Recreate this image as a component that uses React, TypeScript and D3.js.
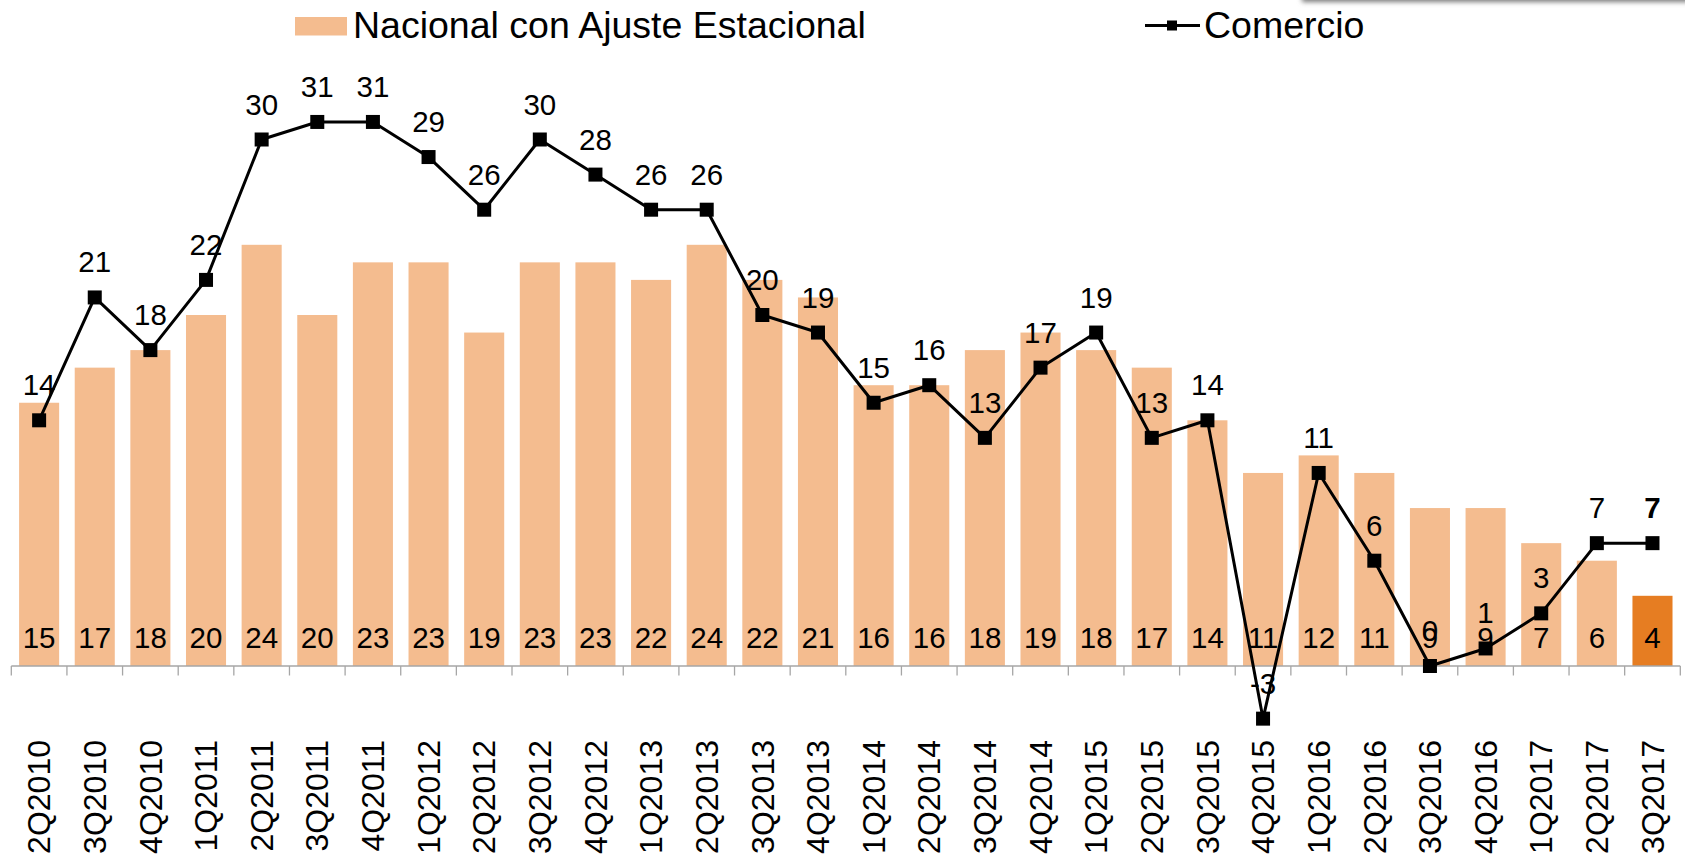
import * as d3 from "d3";
import React, { useEffect, useRef } from "react";

// quarters on the x axis
const quarters = [
  "2Q2010", "3Q2010", "4Q2010",
  "1Q2011", "2Q2011", "3Q2011", "4Q2011",
  "1Q2012", "2Q2012", "3Q2012", "4Q2012",
  "1Q2013", "2Q2013", "3Q2013", "4Q2013",
  "1Q2014", "2Q2014", "3Q2014", "4Q2014",
  "1Q2015", "2Q2015", "3Q2015", "4Q2015",
  "1Q2016", "2Q2016", "3Q2016", "4Q2016",
  "1Q2017", "2Q2017", "3Q2017",
];

// bars: Nacional con Ajuste Estacional
const nacional = [
  15, 17, 18, 20, 24, 20, 23, 23, 19, 23, 23, 22, 24, 22, 21,
  16, 16, 18, 19, 18, 17, 14, 11, 12, 11, 9, 9, 7, 6, 4,
];

// line: Comercio
const comercio = [
  14, 21, 18, 22, 30, 31, 31, 29, 26, 30, 28, 26, 26, 20, 19,
  15, 16, 13, 17, 19, 13, 14, -3, 11, 6, 0, 1, 3, 7, 7,
];

const seriesNames = ["Nacional con Ajuste Estacional", "Comercio"];

const W = 1685;
const H = 855;
const FONT = "'Liberation Sans', Arial, Helvetica, sans-serif";
const BAR = "#F4BC8F";
const BAR_LAST = "#E67D22";

export default function App() {
  const svgRef = useRef<SVGSVGElement>(null);

  useEffect(() => {
    const svg = d3.select(svgRef.current);
    svg.selectAll("*").remove();
    svg.attr("width", W).attr("height", H).style("background", "#fff");

    //scales
    const xScale = d3.scaleBand().domain(quarters).range([11.3, 1680.3]).padding(0);
    const yScale = d3.scaleLinear().domain([-5, 35]).range([753.75, 51.75]);
    const bw = xScale.bandwidth();
    const barW = bw * 0.72;
    const cx = (q: string) => (xScale(q) as number) + bw / 2;

    //shadow at the top right corner
    const defs = svg.append("defs");
    const blur = defs.append("filter").attr("id", "shadowBlur").attr("x", "-10%").attr("y", "-100%").attr("width", "120%").attr("height", "300%");
    blur.append("feGaussianBlur").attr("stdDeviation", 2.6);
    svg.append("rect")
      .attr("x", 1302).attr("y", -12).attr("width", 420).attr("height", 14)
      .attr("fill", "#7a7a7a")
      .attr("filter", "url(#shadowBlur)");

    //bars
    svg.selectAll(".bar")
      .data(nacional)
      .join("rect")
      .attr("class", "bar")
      .attr("x", (d, i) => cx(quarters[i]) - barW / 2)
      .attr("y", (d) => yScale(d))
      .attr("width", barW)
      .attr("height", (d) => yScale(0) - yScale(d))
      .attr("fill", (d, i) => (i === nacional.length - 1 ? BAR_LAST : BAR));

    //axis line + ticks at band edges
    const axis = svg.append("g").attr("stroke", "#A6A6A6").attr("stroke-width", 1.3);
    const y0 = yScale(0);
    axis.append("line").attr("x1", 11.3).attr("x2", 1680.3).attr("y1", y0).attr("y2", y0);
    const edges = quarters.map((q) => xScale(q) as number).concat([xScale.range()[1]]);
    axis.selectAll(".tick")
      .data(edges)
      .join("line")
      .attr("x1", (d) => d).attr("x2", (d) => d)
      .attr("y1", y0).attr("y2", y0 + 9.5);

    //tick labels, rotated
    svg.selectAll(".xlab")
      .data(quarters)
      .join("text")
      .attr("class", "xlab")
      .attr("transform", (d) => `translate(${cx(d)},740) rotate(-90)`)
      .attr("text-anchor", "end")
      .attr("dy", "0.35em")
      .style("font-family", FONT)
      .style("font-size", "32px")
      .attr("fill", "#000")
      .text((d) => d);

    //bar labels
    svg.selectAll(".blab")
      .data(nacional)
      .join("text")
      .attr("class", "blab")
      .attr("x", (d, i) => cx(quarters[i]))
      .attr("y", y0 - 18)
      .attr("text-anchor", "middle")
      .style("font-family", FONT)
      .style("font-size", "29.5px")
      .attr("fill", "#000")
      .text((d) => d);

    //line
    const line = d3.line<number>()
      .x((d, i) => cx(quarters[i]))
      .y((d) => yScale(d));
    svg.append("path")
      .datum(comercio)
      .attr("d", line)
      .attr("fill", "none")
      .attr("stroke", "#000")
      .attr("stroke-width", 3)
      .attr("stroke-linejoin", "round");

    const m = 14;
    svg.selectAll(".mark")
      .data(comercio)
      .join("rect")
      .attr("class", "mark")
      .attr("x", (d, i) => cx(quarters[i]) - m / 2)
      .attr("y", (d) => yScale(d) - m / 2)
      .attr("width", m)
      .attr("height", m)
      .attr("fill", "#000");

    //line labels
    svg.selectAll(".llab")
      .data(comercio)
      .join("text")
      .attr("class", "llab")
      .attr("x", (d, i) => cx(quarters[i]))
      .attr("y", (d) => yScale(d) - 25)
      .attr("text-anchor", "middle")
      .style("font-family", FONT)
      .style("font-size", "29.5px")
      .style("font-weight", (d, i) => (i === comercio.length - 1 ? "bold" : "normal"))
      .attr("fill", "#000")
      .text((d) => d);

    //legend
    const lg = svg.append("g").style("font-family", FONT).style("font-size", "37.5px");
    lg.append("rect").attr("x", 295).attr("y", 17).attr("width", 52).attr("height", 18.5).attr("fill", BAR);
    lg.append("text").attr("x", 353).attr("y", 37.5).attr("fill", "#000").text(seriesNames[0]);
    lg.append("line").attr("x1", 1145).attr("x2", 1200).attr("y1", 25.5).attr("y2", 25.5)
      .attr("stroke", "#000").attr("stroke-width", 3);
    lg.append("rect").attr("x", 1167).attr("y", 20.5).attr("width", 10).attr("height", 10).attr("fill", "#000");
    lg.append("text").attr("x", 1204).attr("y", 37.5).attr("fill", "#000").text(seriesNames[1]);
  }, []);

  return (
    <div style={{ position: "absolute", left: 0, top: 0 }}>
      <svg ref={svgRef}></svg>
    </div>
  );
}
